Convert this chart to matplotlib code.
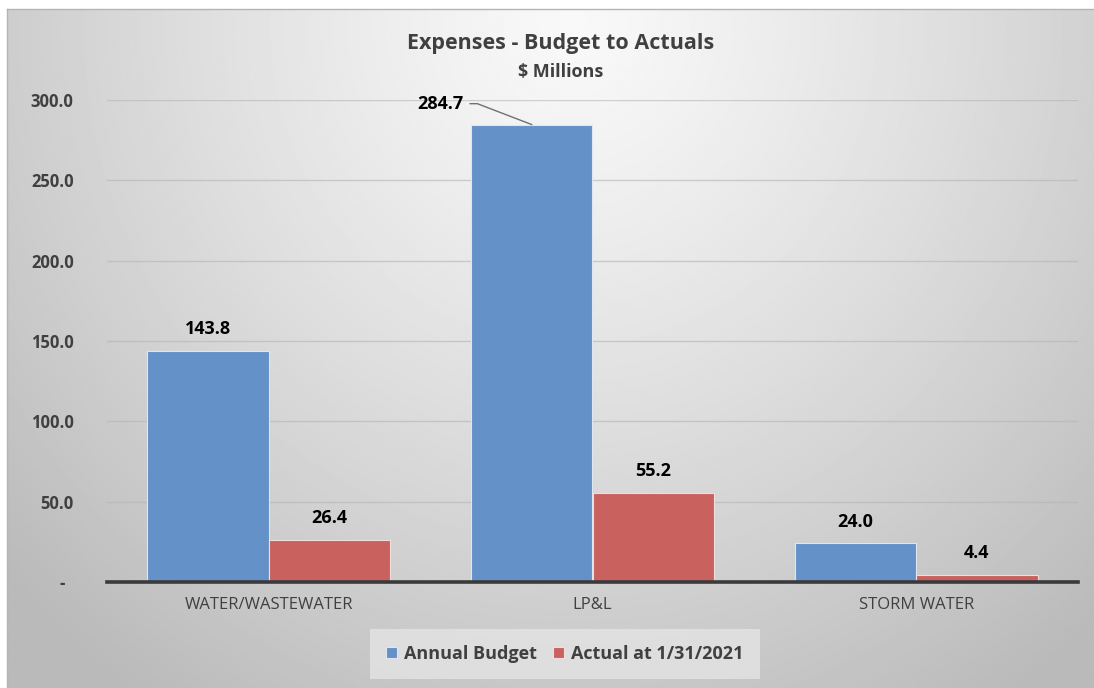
import matplotlib.pyplot as plt
import numpy as np

plt.rcParams['font.family'] = ['Open Sans', 'DejaVu Sans']

categories = ['WATER/WASTEWATER', 'LP&L', 'STORM WATER']
annual_budget = [143.8, 284.7, 24.0]
actual = [26.4, 55.2, 4.4]
series_names = ['Annual Budget', 'Actual at 1/31/2021']
yticks = [0, 50, 100, 150, 200, 250, 300]
ytick_labels = ['-  ', '50.0', '100.0', '150.0', '200.0', '250.0', '300.0']

blue = '#6491c8'
red = '#c9625f'

fig = plt.figure(figsize=(10.94, 6.88), dpi=100)

# radial grey backdrop for the chart area
bg = fig.add_axes([7 / 1094, 0, 1 - 7 / 1094, 1 - 9 / 688])
bg.set_axis_off()
h, w = 300, 480
yy, xx = np.mgrid[0:h, 0:w]
r = np.sqrt(((xx - w * 0.52) / (w * 0.62)) ** 2 + ((yy - h * 0.02) / (h * 1.05)) ** 2)
shade = 0.975 - 0.21 * np.clip(r, 0, 1.15) ** 1.2
bg.imshow(shade, cmap='gray', vmin=0, vmax=1, aspect='auto', extent=[0, 1, 0, 1],
          origin='upper', interpolation='bilinear')
bg.set_xlim(0, 1)
bg.set_ylim(0, 1)
# thin border on top/left of the chart area
fig.add_artist(plt.Line2D([7 / 1094, 1], [1 - 9 / 688, 1 - 9 / 688], color='#b4b4b4', lw=1))
fig.add_artist(plt.Line2D([7 / 1094, 7 / 1094], [0, 1 - 9 / 688], color='#b4b4b4', lw=1))

ax = fig.add_axes([107 / 1094, 1 - 582 / 688, (1078 - 107) / 1094, (582 - 100) / 688])
ax.patch.set_alpha(0)

x = np.arange(len(categories))
bw = 0.375
b1 = ax.bar(x - bw / 2, annual_budget, bw, color=blue, edgecolor='#dfe6f0', linewidth=0.8, zorder=3,
            label=series_names[0])
b2 = ax.bar(x + bw / 2, actual, bw, color=red, edgecolor='#f0dede', linewidth=0.8, zorder=3,
            label=series_names[1])

ax.set_xlim(-0.5, 2.5)
ax.set_ylim(0, 300)
ax.set_yticks(yticks)
ax.set_yticklabels(ytick_labels, fontsize=12, fontweight='bold', color='#404040')
ax.set_xticks(x)
ax.set_xticklabels(categories, fontsize=12, color='#404040')
ax.tick_params(axis='y', length=0, pad=24)
ax.tick_params(axis='x', length=0, pad=11)
ax.grid(axis='y', color='#b4b4b4', lw=1, alpha=0.6, zorder=0)
for s in ['top', 'right', 'left']:
    ax.spines[s].set_visible(False)
ax.spines['bottom'].set_color('#3a3a3a')
ax.spines['bottom'].set_linewidth(2.6)
ax.spines['bottom'].set_zorder(4)

# value labels
for i, v in enumerate(annual_budget):
    if i == 1:
        # label pulled off to the left with a leader line to the bar top
        ax.annotate(f'{v:.1f}', xy=(x[i] - bw / 2, v), xytext=(x[i] - 0.40, v + 13),
                    ha='right', va='center', fontsize=13, fontweight='bold', color='black',
                    arrowprops=dict(arrowstyle='-', color='#707070', lw=1,
                                    connectionstyle='angle,angleA=0,angleB=159,rad=0',
                                    shrinkA=3, shrinkB=0))
    else:
        ax.text(x[i] - bw / 2, v + 8, f'{v:.1f}', ha='center', va='bottom',
                fontsize=13, fontweight='bold', color='black')
for i, v in enumerate(actual):
    ax.text(x[i] + bw / 2, v + 8, f'{v:.1f}', ha='center', va='bottom',
            fontsize=13, fontweight='bold', color='black')

fig.text(0.512, 1 - 44 / 688, 'Expenses - Budget to Actuals', ha='center', va='center',
         fontsize=15.5, fontweight='bold', color='#404040')
fig.text(0.512, 1 - 72 / 688, '$ Millions', ha='center', va='center',
         fontsize=13, fontweight='bold', color='#404040')

leg = fig.legend(handles=[b1, b2], loc='center', bbox_to_anchor=(565 / 1094, 1 - 654 / 688),
                 ncol=2, frameon=True, fontsize=13, handlelength=0.6, handleheight=0.6,
                 handletextpad=0.4, columnspacing=0.9, borderpad=0.9, fancybox=False)
leg.get_frame().set_facecolor('#e4e4e4')
leg.get_frame().set_edgecolor('none')
for t in leg.get_texts():
    t.set_fontweight('bold')
    t.set_color('#404040')

fig.savefig('out.png', dpi=100)
